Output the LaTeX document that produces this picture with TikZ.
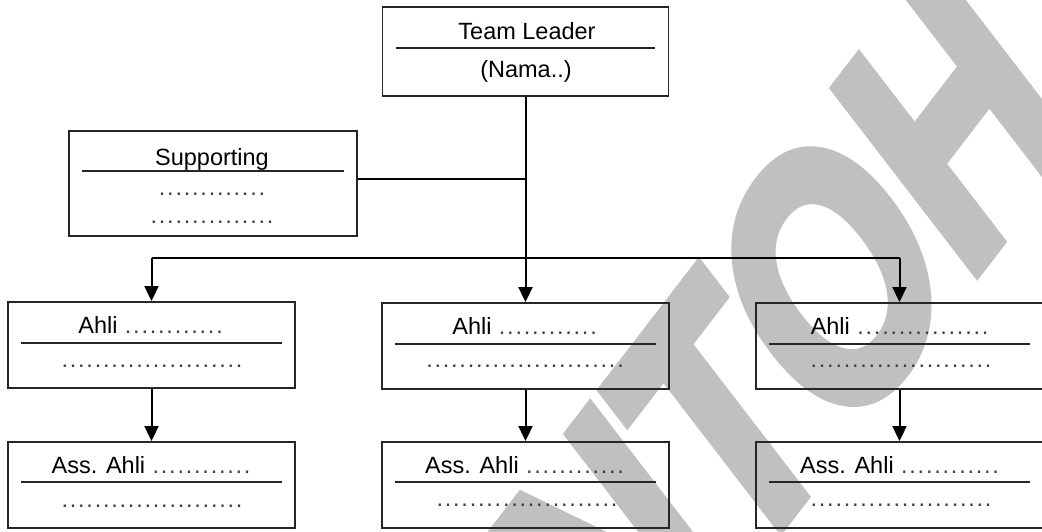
\documentclass[tikz,border=0pt]{standalone}
\usepackage{fontspec}
\setmainfont{Liberation Sans}
\newfontfamily\markfont[FakeBold=4]{Liberation Sans Bold}
\usetikzlibrary{arrows.meta}
\definecolor{markgray}{HTML}{C0C0C0}
\definecolor{edge}{HTML}{262626}

% a run of evenly spaced leader dots
\newcount\dotcount
\newcommand\dotrun[1]{\dotcount=#1\relax\loop\makebox[8.3pt]{.}\advance\dotcount by -1\relax\ifnum\dotcount>0\repeat}

\tikzset{
  box/.style={draw=edge, line width=1.9pt, inner sep=0pt, minimum width=287pt, minimum height=86pt},
  rule/.style={draw=edge, line width=1.9pt},
  link/.style={draw=black, line width=2pt},
  arr/.style={link, -{Triangle[length=15pt,width=14pt]}},
  lbl/.style={inner sep=0pt, anchor=base, text=black, font=\fontsize{23.5}{28}\selectfont},
  dots/.style={lbl, text=black!75}
}

\begin{document}
\begin{tikzpicture}[x=1pt, y=1pt]
\useasboundingbox (0,0) rectangle (1042,-531);
\clip (0,0) rectangle (1042,-531);
\fill[white] (0,0) rectangle (1042,-531);

% diagonal watermark
\begin{scope}[shift={(380,-1046.5)}, yscale=1.3, rotate=45, xscale=0.8]
  \node[transform shape, anchor=base west, inner sep=0pt, text=markgray,
        font=\markfont\fontsize{288}{300}\selectfont] (mark) {CONTOH};
\end{scope}

% boxes
\node[box, minimum width=286pt, minimum height=89pt] (tl) at (525.5,-51.5) {};
\node[box, minimum width=288pt, minimum height=105pt] (sup) at (213,-183.5) {};
\node[box] (al) at (151.5,-345) {};
\node[box] (am) at (525.5,-346) {};
\node[box] (ar) at (899.5,-346) {};
\node[box] (sl) at (151.5,-485) {};
\node[box] (sm) at (525.5,-485) {};
\node[box] (sr) at (899.5,-485) {};

% dividing rules inside the boxes
\draw[rule] ([xshift=14pt,yshift=-42pt]tl.north west) -- ([xshift=-14pt,yshift=-42pt]tl.north east);
\draw[rule] ([xshift=14pt,yshift=-41pt]sup.north west) -- ([xshift=-14pt,yshift=-41pt]sup.north east);
\foreach \b in {al,am,ar} {
  \draw[rule] ([xshift=14pt,yshift=-41.5pt]\b.north west) -- ([xshift=-14pt,yshift=-41.5pt]\b.north east);
}
\foreach \b in {sl,sm,sr} {
  \draw[rule] ([xshift=14pt,yshift=-40.5pt]\b.north west) -- ([xshift=-14pt,yshift=-40.5pt]\b.north east);
}

% labels
\node[lbl] (tlname) at (527,-39) {Team Leader};
\node[lbl] (tlsub) at (526,-77) {(Nama..)};
\node[lbl] (supname) at (212,-165) {Supporting};
\node[dots] (supd1) at (212,-195) {\dotrun{13}};
\node[dots] (supd2) at (212,-223.5) {\dotrun{15}};

\node[lbl] (aln) at (151,-333.5) {Ahli {\color{black!75}\dotrun{12}}};
\node[dots] (ald) at (152,-367) {\dotrun{22}};
\node[lbl] (amn) at (525,-334) {Ahli {\color{black!75}\dotrun{12}}};
\node[dots] (amd) at (525,-367) {\dotrun{24}};
\node[lbl] (arn) at (900,-334) {Ahli {\color{black!75}\dotrun{16}}};
\node[dots] (ard) at (901,-367) {\dotrun{22}};

\node[lbl] (sln) at (151.5,-473) {Ass. Ahli {\color{black!75}\dotrun{12}}};
\node[dots] (sld) at (152,-507) {\dotrun{22}};
\node[lbl] (smn) at (525,-473) {Ass. Ahli {\color{black!75}\dotrun{12}}};
\node[dots] (smd) at (527,-506.5) {\dotrun{22}};
\node[lbl] (srn) at (900,-473) {Ass. Ahli {\color{black!75}\dotrun{12}}};
\node[dots] (srd) at (901,-506.5) {\dotrun{22}};

% connectors
\draw[arr] (tl.south) -- (am.north);
\draw[link] ([yshift=4.5pt]sup.east) -- ([yshift=4.5pt]sup.east -| tl.south);
\path (al.north) ++(0,43) coordinate (branch);
\draw[link] (branch) -- (branch -| ar.north);
\draw[arr] (branch) -- (al.north);
\draw[arr] (branch -| ar.north) -- (ar.north);
\draw[arr] (al.south) -- (sl.north);
\draw[arr] (am.south) -- (sm.north);
\draw[arr] (ar.south) -- (sr.north);
\end{tikzpicture}
\end{document}
